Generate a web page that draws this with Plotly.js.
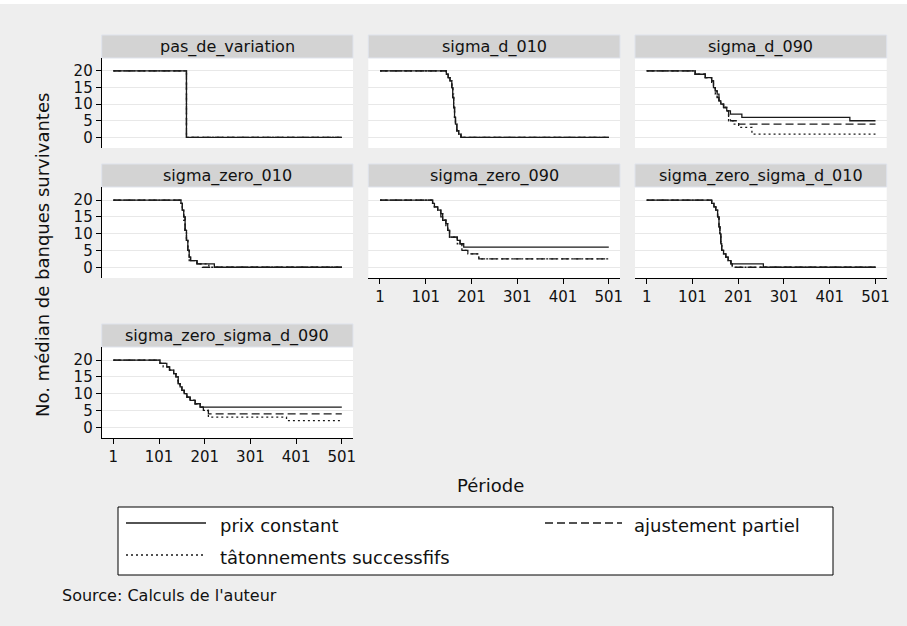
<!DOCTYPE html>
<html>
<head>
<meta charset="utf-8">
<script src="https://cdn.plot.ly/plotly-3.0.1.min.js"></script>
<style>html,body{margin:0;padding:0;background:#eeeeee;}#chart{width:907px;height:626px;}</style>
</head>
<body>
<div id="chart"></div>
<script>
// ---------------- DATA ----------------
const panelNames = ["pas_de_variation", "sigma_d_010", "sigma_d_090", "sigma_zero_010", "sigma_zero_090", "sigma_zero_sigma_d_010", "sigma_zero_sigma_d_090"];
const seriesNames = ["prix constant", "ajustement partiel", "tâtonnements successfifs"];
const xTickVals = [1, 101, 201, 301, 401, 501];
const yTickVals = [0, 5, 10, 15, 20];
const xTitle = "Période";
const yTitle = "No. médian de banques survivantes";
const noteText = "Source: Calculs de l'auteur";

// pas_de_variation
const pdv_periode = [1, 161, 501];
const pdv_prix    = [20, 0, 0];
const pdv_ajust   = [20, 0, 0];
const pdv_taton   = [20, 0, 0];

// sigma_d_010
const sd010_periode = [1, 146, 150, 154, 158, 160, 162, 164, 166, 169, 173, 178, 501];
const sd010_prix    = [20, 19, 18, 17, 15, 12, 9, 6, 4, 2, 1, 0, 0];
const sd010_ajust   = [20, 19, 18, 17, 15, 12, 9, 6, 4, 2, 1, 0, 0];
const sd010_taton   = [20, 19, 18, 17, 15, 13, 9, 6, 4, 2, 1, 0, 0];

// sigma_d_090
const sd090_periode = [1, 107, 129, 143, 147, 151, 155, 159, 163, 169, 176, 180, 184, 190, 195, 202, 209, 231, 445, 501];
const sd090_prix    = [20, 19, 18, 17, 15, 14, 13, 11, 10, 9, 8, 8, 7, 7, 7, 7, 6, 6, 5, 5];
const sd090_ajust   = [20, 19, 18, 17, 15, 14, 12, 11, 10, 9, 8, 6, 5, 5, 5, 4, 4, 4, 4, 4];
const sd090_taton   = [20, 19, 18, 16, 15, 13, 12, 11, 10, 9, 8, 5, 5, 4, 4, 3, 3, 1, 1, 1];

// sigma_zero_010
const sz010_periode = [1, 149, 152, 155, 158, 161, 164, 167, 170, 184, 196, 210, 222, 501];
const sz010_prix    = [20, 19, 17, 15, 11, 8, 5, 3, 2, 1, 1, 1, 0, 0];
const sz010_ajust   = [20, 19, 17, 15, 11, 8, 5, 3, 2, 1, 0, 0, 0, 0];
const sz010_taton   = [20, 19, 17, 14, 11, 8, 5, 2, 2, 1, 1, 0, 0, 0];

// sigma_zero_090
const sz090_periode = [1, 116, 120, 127, 134, 138, 145, 149, 153, 170, 176, 180, 184, 193, 217, 501];
const sz090_prix    = [20, 19, 18, 17, 16, 14, 13, 11, 9, 8, 7, 7, 6, 6, 6, 6];
const sz090_ajust   = [20, 19, 18, 17, 15, 14, 13, 11, 9, 8, 7, 5, 5, 4, 2.5, 2.5];
const sz090_taton   = [20, 19, 18, 17, 16, 14, 12, 11, 9, 7, 7, 5, 5, 4, 2.5, 2.5];

// sigma_zero_sigma_d_010
const szsd010_periode = [1, 143, 148, 152, 156, 159, 161, 163, 165, 169, 174, 179, 185, 188, 256, 501];
const szsd010_prix    = [20, 19, 18, 17, 15, 12, 10, 7, 5, 4, 3, 2, 1, 1, 0, 0];
const szsd010_ajust   = [20, 19, 18, 17, 15, 12, 10, 7, 5, 4, 3, 2, 1, 0, 0, 0];
const szsd010_taton   = [20, 19, 18, 17, 15, 12, 10, 7, 5, 4, 3, 2, 1, 0, 0, 0];

// sigma_zero_sigma_d_090
const szsd090_periode = [1, 103, 110, 118, 124, 133, 138, 143, 147, 151, 156, 162, 169, 180, 191, 198, 209, 380, 501];
const szsd090_prix    = [20, 19, 19, 18, 17, 16, 15, 13, 12, 11, 10, 9, 8, 7, 6, 6, 6, 6, 6];
const szsd090_ajust   = [20, 19, 19, 18, 17, 16, 14, 13, 12, 11, 10, 9, 8, 7, 6, 5, 4, 4, 4];
const szsd090_taton   = [20, 19, 18, 18, 17, 16, 15, 13, 12, 11, 10, 9, 8, 7, 6, 5, 3, 2, 2];

// ---------------- BUILD ----------------
const panelData = [
  [pdv_periode, pdv_prix, pdv_ajust, pdv_taton],
  [sd010_periode, sd010_prix, sd010_ajust, sd010_taton],
  [sd090_periode, sd090_prix, sd090_ajust, sd090_taton],
  [sz010_periode, sz010_prix, sz010_ajust, sz010_taton],
  [sz090_periode, sz090_prix, sz090_ajust, sz090_taton],
  [szsd010_periode, szsd010_prix, szsd010_ajust, szsd010_taton],
  [szsd090_periode, szsd090_prix, szsd090_ajust, szsd090_taton]
];

const W = 907, H = 626;
const FONT = "DejaVu Sans";
const fx = p => p / W;
const fy = p => 1 - p / H;

const cols = [[101.7, 353], [368.3, 620], [635, 886.7]];
const rowsPlot = [[58, 148], [187, 278], [347, 438]];
const rowsHead = [[35, 58], [164, 187], [324, 347]];
const pos = [[0, 0], [0, 1], [0, 2], [1, 0], [1, 1], [1, 2], [2, 0]];
const showX = [false, false, false, false, true, true, true];

const lineColor = "#1a1a1a";
const dashes = ["solid", "8px,4px", "2px,3px"];

const traces = [];
const layout = {
  width: W, height: H,
  margin: {l: 0, r: 0, t: 0, b: 0},
  paper_bgcolor: "#eeeeee",
  plot_bgcolor: "#ffffff",
  showlegend: false,
  font: {family: FONT, size: 15, color: "#111"},
  shapes: [],
  annotations: []
};

panelData.forEach((pd, i) => {
  const n = i === 0 ? "" : String(i + 1);
  const [r, c] = pos[i];
  for (let s = 0; s < 3; s++) {
    traces.push({
      x: pd[0], y: pd[s + 1],
      xaxis: "x" + n, yaxis: "y" + n,
      type: "scatter", mode: "lines",
      name: seriesNames[s],
      line: {shape: "hv", color: lineColor, width: 1.3, dash: dashes[s]},
      hoverinfo: "skip", showlegend: false
    });
  }
  const sx = showX[i];
  const sy = c === 0;
  layout["xaxis" + n] = {
    domain: [fx(cols[c][0]), fx(cols[c][1])],
    anchor: "y" + n,
    range: [-24.5, 525.5],
    tickvals: xTickVals, ticktext: xTickVals.map(String),
    showticklabels: sx, ticks: sx ? "outside" : "", ticklen: 5, tickcolor: "#000", tickwidth: 1,
    showline: sx, linecolor: "#000", linewidth: 1,
    showgrid: false, zeroline: false, fixedrange: true,
    tickfont: {family: FONT, size: 15, color: "#111"}
  };
  layout["yaxis" + n] = {
    domain: [fy(rowsPlot[r][1]), fy(rowsPlot[r][0])],
    anchor: "x" + n,
    range: [-3.2, 23.9],
    tickvals: yTickVals, ticktext: yTickVals.map(String),
    showticklabels: sy, ticks: sy ? "outside" : "", ticklen: 5, tickcolor: "#000", tickwidth: 1,
    showline: sy, linecolor: "#000", linewidth: 1,
    showgrid: true, gridcolor: "#e8e8e8", gridwidth: 1,
    zeroline: false, fixedrange: true,
    tickfont: {family: FONT, size: 15, color: "#111"}
  };
  // strip header
  layout.shapes.push({
    type: "rect", xref: "paper", yref: "paper", layer: "below",
    x0: fx(cols[c][0]), x1: fx(cols[c][1]),
    y0: fy(rowsHead[r][1]), y1: fy(rowsHead[r][0]),
    fillcolor: "#d3d3d3", line: {color: "#dfe3ec", width: 1}
  });
  layout.annotations.push({
    xref: "paper", yref: "paper",
    x: fx((cols[c][0] + cols[c][1]) / 2), y: fy((rowsHead[r][0] + rowsHead[r][1]) / 2),
    xanchor: "center", yanchor: "middle", showarrow: false,
    text: panelNames[i], font: {family: FONT, size: 16, color: "#111"}
  });
});

// top white strip
layout.shapes.push({type: "rect", xref: "paper", yref: "paper", x0: 0, x1: 1, y0: fy(4), y1: 1,
  fillcolor: "#ffffff", line: {width: 0}, layer: "below"});

// axis titles
layout.annotations.push({xref: "paper", yref: "paper", x: fx(490), y: fy(485), xanchor: "center", yanchor: "middle",
  showarrow: false, text: xTitle, font: {family: FONT, size: 18, color: "#111"}});
layout.annotations.push({xref: "paper", yref: "paper", x: fx(42), y: fy(255), xanchor: "center", yanchor: "middle",
  showarrow: false, textangle: -90, text: yTitle, font: {family: FONT, size: 18, color: "#111"}});

// legend box
layout.shapes.push({type: "rect", xref: "paper", yref: "paper", x0: fx(118), x1: fx(833), y0: fy(575), y1: fy(507),
  fillcolor: "#ffffff", line: {color: "#000", width: 1}});
const legItems = [
  {x0: 126, x1: 206, y: 523, tx: 218, ty: 525},
  {x0: 545, x1: 622, y: 523, tx: 632, ty: 525},
  {x0: 126, x1: 206, y: 555, tx: 218, ty: 557}
];
legItems.forEach((it, s) => {
  layout.shapes.push({type: "line", xref: "paper", yref: "paper", x0: fx(it.x0), x1: fx(it.x1), y0: fy(it.y), y1: fy(it.y),
    line: {color: lineColor, width: 1.6, dash: dashes[s]}});
  layout.annotations.push({xref: "paper", yref: "paper", x: fx(it.tx), y: fy(it.ty), xanchor: "left", yanchor: "middle",
    showarrow: false, text: seriesNames[s], font: {family: FONT, size: 18, color: "#111"}});
});

// note
layout.annotations.push({xref: "paper", yref: "paper", x: fx(60), y: fy(595), xanchor: "left", yanchor: "middle",
  showarrow: false, text: noteText, font: {family: FONT, size: 16, color: "#111"}});

Plotly.newPlot("chart", traces, layout, {staticPlot: true, displayModeBar: false});
</script>
</body>
</html>
